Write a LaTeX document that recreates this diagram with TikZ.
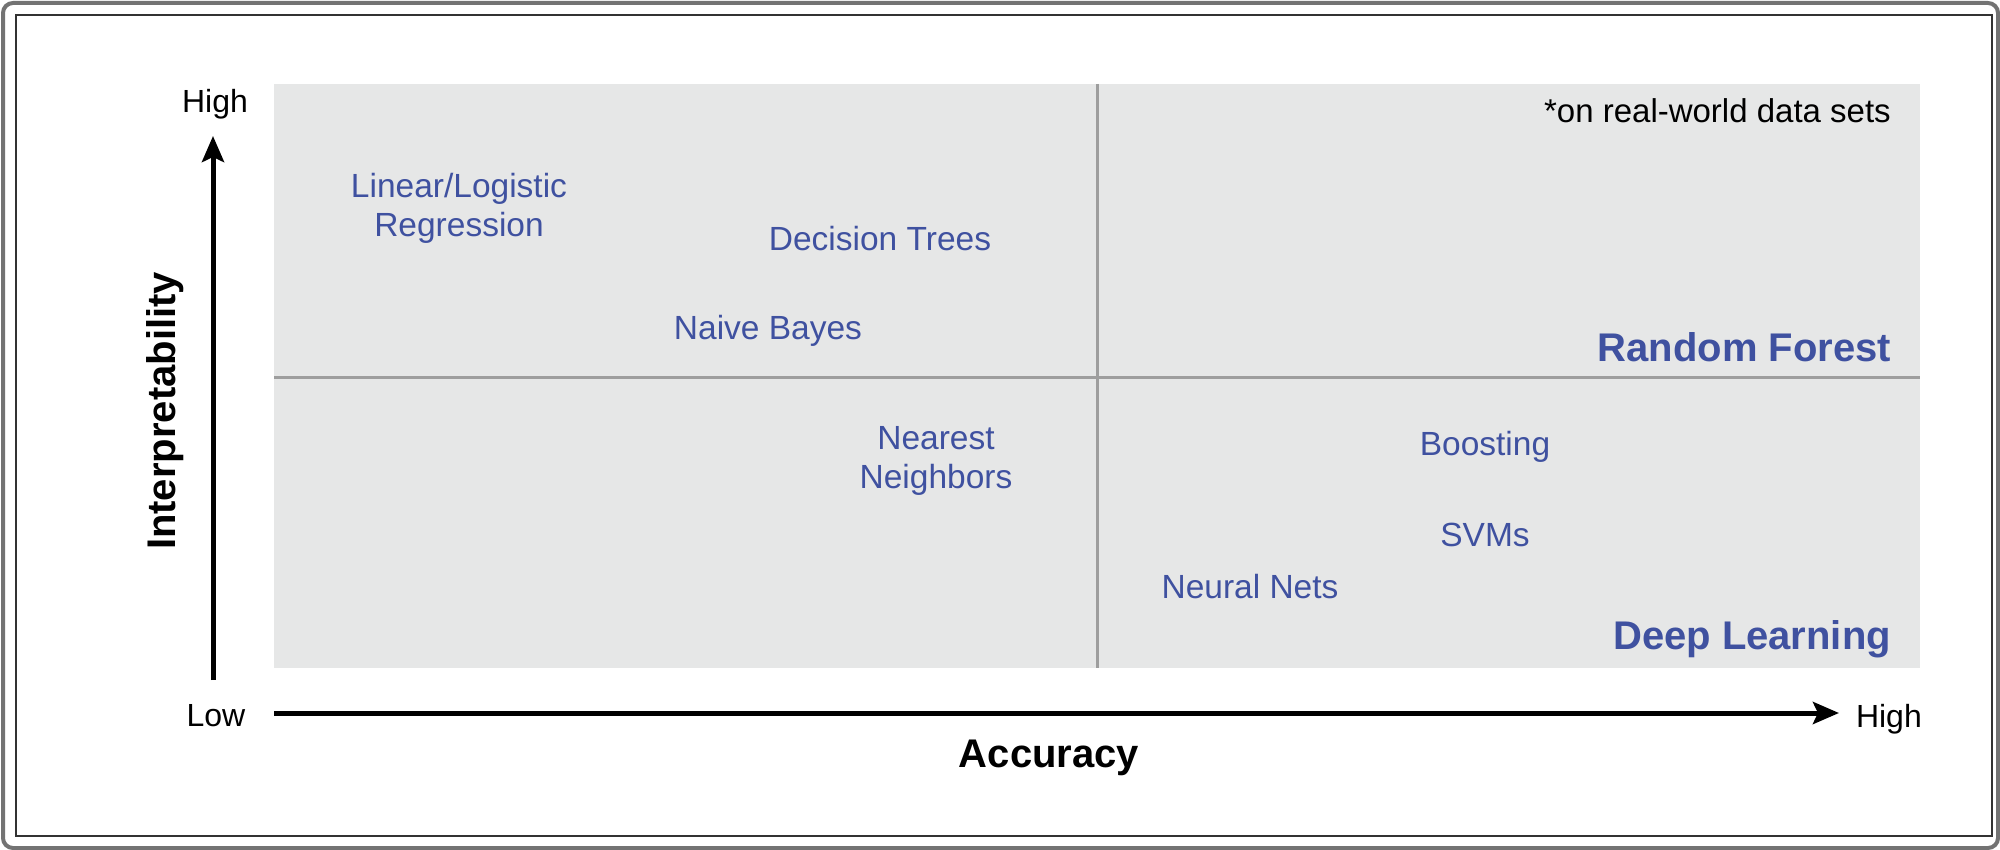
\documentclass[tikz,border=0pt]{standalone}
\usepackage{fontspec}
\setmainfont{Liberation Sans}
\usetikzlibrary{arrows.meta}
\definecolor{plotbg}{RGB}{230,231,231}
\definecolor{divgray}{RGB}{158,158,158}
\definecolor{labblue}{RGB}{63,81,160}
\definecolor{outergray}{RGB}{115,115,115}
\definecolor{innerdark}{RGB}{50,50,50}
\tikzset{
  lab/.style={inner sep=0pt, outer sep=0pt, text=labblue, font=\fontsize{33.5}{39}\selectfont, align=center, anchor=base},
  biglab/.style={inner sep=0pt, outer sep=0pt, text=labblue, font=\fontsize{40}{48}\selectfont\bfseries, anchor=base east},
  axlab/.style={inner sep=0pt, outer sep=0pt, text=black, font=\fontsize{32}{38}\selectfont, anchor=base},
  axtitle/.style={inner sep=0pt, outer sep=0pt, text=black, font=\fontsize{40}{48}\selectfont\bfseries, anchor=base},
  axisline/.style={line width=5pt, black, -{Stealth[length=26pt,width=22pt,inset=5pt]}},
  divider/.style={line width=3pt, divgray}
}
\begin{document}
\begin{tikzpicture}[x=1pt,y=-1pt]
\useasboundingbox (0,0) rectangle (2000,850);
% frames
\draw[outergray, line width=4pt, rounded corners=10pt] (3,3) rectangle (1998,848);
\draw[innerdark, line width=2.5pt] (16,15) rectangle (1992,836);
% plot area
\fill[plotbg] (274,84) rectangle (1920,668);
\coordinate (vt) at (1097,84);
\coordinate (vb) at (1097,668);
\coordinate (hl) at (274,377);
\coordinate (hr) at (1920,377);
\draw[divider] (vt) -- (vb);
\draw[divider] (hl) -- (hr);
% axes
\coordinate (yb) at (213,680);
\coordinate (yt) at (213,136);
\coordinate (xl) at (274,713);
\coordinate (xr) at (1839,713);
\draw[axisline] (yb) -- (yt);
\draw[axisline] (xl) -- (xr);
% axis labels
\node[axlab] (yhigh) at (215,113) {High};
\node[axlab] (low) at (216,726) {Low};
\node[axlab, anchor=base west] (xhigh) at (1856,727) {High};
\node[axtitle] (acc) at (1049,767) {Accuracy};
\node[axtitle, rotate=90] (interp) at (175,411) {Interpretability};
% note
\node[inner sep=0pt, font=\fontsize{33}{40}\selectfont, anchor=base east] (note) at (1891,123) {*on real-world data sets};
% methods
\node[lab] (linreg) at (459,237) {Linear/Logistic\\Regression};
\node[lab] (dtree) at (880,251) {Decision Trees};
\node[lab] (nbayes) at (768,339) {Naive Bayes};
\node[lab] (knn) at (936,488) {Nearest\\Neighbors};
\node[lab] (boost) at (1485,455) {Boosting};
\node[lab] (svm) at (1485,546) {SVMs};
\node[lab] (nnet) at (1250,598) {Neural Nets};
\node[biglab] (rf) at (1891,361) {Random Forest};
\node[biglab] (dl) at (1891,649) {Deep Learning};
\end{tikzpicture}
\end{document}
